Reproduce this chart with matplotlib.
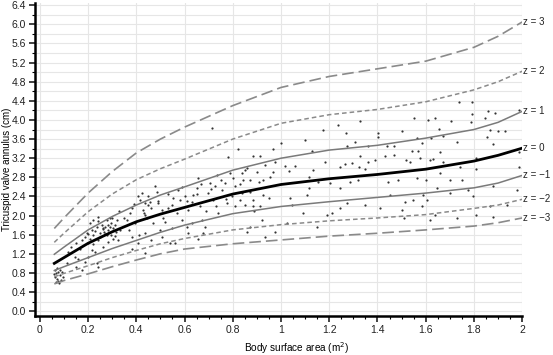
import matplotlib.pyplot as plt
from matplotlib.ticker import MultipleLocator, FormatStrFormatter

plt.rcParams['font.family'] = ['Liberation Sans', 'DejaVu Sans']

# centile curves (z-scores)
bsa = [0.06, 0.1, 0.2, 0.3, 0.4, 0.5, 0.6, 0.8, 1.0, 1.2, 1.4, 1.6, 1.8, 1.9, 2.0]
z_p3 = [1.73, 1.95, 2.47, 2.92, 3.31, 3.60, 3.85, 4.30, 4.68, 4.91, 5.07, 5.23, 5.52, 5.75, 6.05]
z_p2 = [1.44, 1.63, 2.08, 2.45, 2.75, 2.98, 3.18, 3.60, 3.93, 4.11, 4.22, 4.38, 4.63, 4.80, 5.02]
z_p1 = [1.19, 1.34, 1.70, 1.98, 2.22, 2.43, 2.60, 2.95, 3.20, 3.37, 3.47, 3.62, 3.80, 3.95, 4.18]
z_0 = [1.00, 1.12, 1.42, 1.66, 1.87, 2.03, 2.17, 2.45, 2.65, 2.77, 2.86, 2.97, 3.14, 3.26, 3.41]
z_m1 = [0.85, 0.93, 1.12, 1.31, 1.48, 1.65, 1.80, 2.04, 2.19, 2.29, 2.38, 2.47, 2.58, 2.68, 2.84]
z_m2 = [0.72, 0.79, 0.95, 1.12, 1.27, 1.41, 1.52, 1.70, 1.81, 1.89, 1.95, 2.02, 2.15, 2.22, 2.34]
z_m3 = [0.57, 0.64, 0.78, 0.93, 1.07, 1.20, 1.30, 1.41, 1.49, 1.57, 1.63, 1.70, 1.78, 1.85, 1.95]

z_labels = ['z = 3', 'z = 2', 'z = 1', 'z = 0', 'z = \u22121', 'z = \u22122', 'z = \u22123']

pts_x = [0.062, 0.069, 0.076, 0.083, 0.062, 0.073, 0.083, 0.090, 0.065, 0.079, 0.059, 0.087, 0.071, 0.097, 0.076,
         0.131, 0.152, 0.166, 0.176, 0.187, 0.194, 0.201, 0.208, 0.215, 0.222, 0.228, 0.235, 0.242, 0.249, 0.256,
         0.263, 0.267, 0.272, 0.277, 0.281, 0.283, 0.290, 0.294, 0.297, 0.304, 0.311, 0.314, 0.318, 0.325, 0.332,
         0.242, 0.222, 0.201, 0.187, 0.235, 0.242, 0.159, 0.145, 0.215, 0.263, 0.283, 0.304, 0.173, 0.152, 0.111,
         0.118, 0.36, 0.374, 0.381, 0.394, 0.408, 0.415, 0.422, 0.429, 0.436, 0.436, 0.443, 0.450, 0.457, 0.463,
         0.477, 0.484, 0.491, 0.505, 0.498, 0.381, 0.408, 0.436, 0.463, 0.505, 0.519, 0.533, 0.546, 0.553, 0.560,
         0.574, 0.581, 0.588, 0.601, 0.609, 0.615, 0.629, 0.636, 0.650, 0.657, 0.664, 0.671, 0.678, 0.685, 0.699,
         0.705, 0.712, 0.719, 0.726, 0.733, 0.740, 0.754, 0.768, 0.775, 0.781, 0.795, 0.802, 0.809, 0.823, 0.830,
         0.837, 0.539, 0.615, 0.657, 0.381, 0.436,
         1.79, 1.736, 1.985, 1.86, 1.888, 1.79, 1.553, 1.64, 1.611, 1.706, 1.788, 1.847, 1.328, 1.238, 1.404,
         1.404, 1.50, 1.653, 1.867, 1.90, 1.93, 1.853, 1.728, 1.88, 1.173, 1.27, 1.10, 1.0, 0.965, 1.127,
         1.307, 1.272, 1.362, 1.44, 1.47, 1.563, 1.584, 1.622, 1.673, 1.542, 1.57, 1.66, 1.577, 1.617, 1.63,
         1.67, 1.52, 1.535, 1.47, 1.43, 1.39, 1.36, 1.328, 1.293, 1.324, 1.349, 1.265, 1.244, 1.182, 1.134,
         1.058, 1.017, 1.035, 0.968, 0.975, 0.913, 0.885, 0.934, 0.899, 0.858, 0.837, 0.844, 0.871, 0.927, 0.954,
         1.114, 1.155, 1.204, 1.245, 1.287, 1.32, 1.445, 1.486, 1.563, 1.60, 1.66, 1.70, 1.75, 1.81, 1.81,
         1.743, 1.985, 1.985, 1.88, 1.777, 1.798, 1.70, 1.646, 1.59, 1.605, 1.584, 1.549, 1.515, 1.452, 1.411,
         1.349, 1.272, 1.245, 1.21, 1.19, 1.148, 1.093, 1.044, 1.114, 1.107, 1.037, 0.951, 0.927, 0.885, 0.885,
         0.913, 0.851, 0.871, 0.92, 0.975, 1.024, 0.934, 0.858, 1.508, 1.64, 1.728, 1.81, 1.867, 1.88, 1.936,
         1.978, 1.50, 1.617,
         0.33, 0.35, 0.37, 0.39, 0.41, 0.43, 0.45, 0.47, 0.49, 0.51, 0.53, 0.55, 0.57, 0.59, 0.61,
         0.63, 0.65, 0.67, 0.69, 0.71, 0.73, 0.75, 0.77, 0.79, 0.81, 0.83, 0.85, 0.87, 0.89, 0.91,
         0.21, 0.23, 0.25, 0.27, 0.29, 0.31, 0.24, 0.26, 0.28, 0.30, 0.20, 0.22]
pts_y = [0.86, 0.79, 0.82, 0.87, 0.72, 0.68, 0.75, 0.82, 0.61, 0.58, 0.77, 0.66, 0.91, 0.72, 0.63,
         1.35, 1.42, 1.31, 1.49, 1.56, 1.63, 1.42, 1.52, 1.70, 1.59, 1.24, 1.77, 1.49, 1.63, 1.80,
         1.73, 1.66, 1.77, 1.91, 1.80, 1.70, 1.77, 1.84, 1.59, 1.73, 1.80, 1.66, 1.91, 1.49, 1.70,
         1.98, 1.91, 1.14, 1.03, 1.00, 0.93, 1.10, 1.14, 1.28, 1.35, 1.45, 1.52, 0.86, 0.93, 1.00,
         1.24, 1.91, 2.05, 2.15, 1.84, 2.40, 2.33, 2.47, 2.12, 2.01, 2.26, 1.94, 2.22, 2.29, 2.15,
         2.61, 2.50, 2.26, 2.12, 1.70, 1.56, 1.42, 1.63, 1.49, 1.56, 1.87, 2.15, 2.22, 2.36, 1.42,
         2.54, 2.33, 1.91, 2.40, 1.77, 2.12, 2.29, 2.43, 2.57, 2.78, 2.19, 1.91, 1.63, 1.77, 2.47,
         2.68, 3.83, 2.33, 2.61, 2.85, 2.05, 2.54, 2.68, 2.26, 3.22, 2.40, 2.78, 2.61, 3.40, 2.33,
         2.47, 1.42, 1.63, 1.52, 1.31, 1.21,
         4.37, 4.37, 4.20, 4.18, 4.15, 4.12, 4.04, 4.05, 4.00, 3.97, 3.95, 4.04, 3.97, 3.90, 3.73,
         3.64, 3.76, 3.81, 3.80, 3.76, 3.76, 3.64, 3.53, 3.50, 3.78, 3.73, 3.59, 3.52, 3.39, 3.36,
         3.54, 3.45, 3.46, 3.46, 3.46, 3.62, 3.51, 3.63, 3.67, 3.35, 3.35, 3.34, 3.20, 3.16, 3.18,
         3.13, 3.16, 3.13, 3.27, 3.24, 3.17, 3.13, 3.24, 3.11, 3.01, 2.97, 3.08, 3.01, 3.13, 2.96,
         3.04, 3.04, 2.94, 2.92, 3.13, 3.24, 3.24, 3.05, 2.92, 2.99, 2.89, 2.75, 2.75, 2.75, 2.81,
         2.81, 2.71, 2.68, 2.57, 2.71, 2.75, 2.71, 2.75, 2.78, 2.75, 2.89, 2.75, 2.75, 2.97, 3.20,
         3.02, 3.32, 3.02, 2.62, 2.54, 2.40, 2.47, 2.57, 2.43, 2.33, 2.19, 2.33, 2.29, 2.43, 2.15,
         2.22, 2.26, 2.15, 2.05, 2.01, 1.77, 2.05, 2.22, 2.57, 2.43, 2.36, 2.36, 2.43, 2.33, 2.19,
         2.19, 2.22, 1.77, 1.91, 1.66, 1.84, 1.56, 1.66, 1.94, 2.01, 1.94, 2.01, 2.20, 1.96, 2.22,
         2.53, 2.12, 1.91,
         2.10, 1.95, 1.70, 2.25, 1.60, 2.05, 2.40, 1.85, 2.30, 1.95, 2.45, 1.75, 2.05, 2.60, 2.30,
         1.85, 2.45, 2.65, 2.10, 2.55, 2.20, 2.75, 2.35, 2.90, 2.20, 2.65, 2.95, 2.50, 2.10, 2.70,
         1.85, 1.68, 1.55, 1.62, 1.95, 1.58, 1.88, 1.72, 1.60, 1.95, 1.62, 1.40]

fig = plt.figure(figsize=(5.53, 3.55), dpi=100)
ax = fig.add_axes([0.0633, 0.110, 0.881, 0.882])

ax.scatter(pts_x, pts_y, s=2.5, color='#333333', linewidths=0, zorder=2)

curves = [z_p3, z_p2, z_p1, z_0, z_m1, z_m2, z_m3]
styles = [
    dict(color='#8a8a8a', lw=1.2, dashes=(7, 3)),
    dict(color='#8a8a8a', lw=1.1, dashes=(3, 2)),
    dict(color='#7a7a7a', lw=1.1, ls='-'),
    dict(color='black', lw=2.0, ls='-'),
    dict(color='#7a7a7a', lw=1.1, ls='-'),
    dict(color='#8a8a8a', lw=1.1, dashes=(3, 2)),
    dict(color='#8a8a8a', lw=1.2, dashes=(7, 3)),
]
for vals, st, lab in zip(curves, styles, z_labels):
    ax.plot(bsa, vals, zorder=3, **st)
    ax.text(2.004, vals[-1], lab, fontsize=7, ha='left', va='center',
            color='#222222', clip_on=False)

ax.set_xlim(-0.02, 2.0)
ax.set_ylim(-0.1, 6.45)

ax.xaxis.set_major_locator(MultipleLocator(0.2))
ax.xaxis.set_minor_locator(MultipleLocator(0.05))
ax.yaxis.set_major_locator(MultipleLocator(0.4))
ax.yaxis.set_minor_locator(MultipleLocator(0.2))
ax.xaxis.set_major_formatter(FormatStrFormatter('%g'))
ax.yaxis.set_major_formatter(FormatStrFormatter('%.1f'))

ax.grid(True, which='major', axis='x', color='#e6e6e6', lw=0.8)
ax.grid(True, which='both', axis='y', color='#e6e6e6', lw=0.8)
ax.set_axisbelow(True)

for s in ['top', 'right']:
    ax.spines[s].set_visible(False)
for s in ['left', 'bottom']:
    ax.spines[s].set_linewidth(1.8)

ax.tick_params(which='major', length=4, width=1.2, labelsize=7.5, colors='#222222', pad=2.5)
ax.tick_params(which='minor', length=2, width=0.8)

# naming the axes
ax.set_xlabel('Body surface area (m$^2$)', fontsize=7.2)
ax.set_ylabel('Tricuspid valve annulus (cm)', fontsize=7)
ax.xaxis.set_label_coords(0.538, -0.078)
ax.yaxis.set_label_coords(-0.048, 0.468)

plt.savefig('out.png', dpi=100)
